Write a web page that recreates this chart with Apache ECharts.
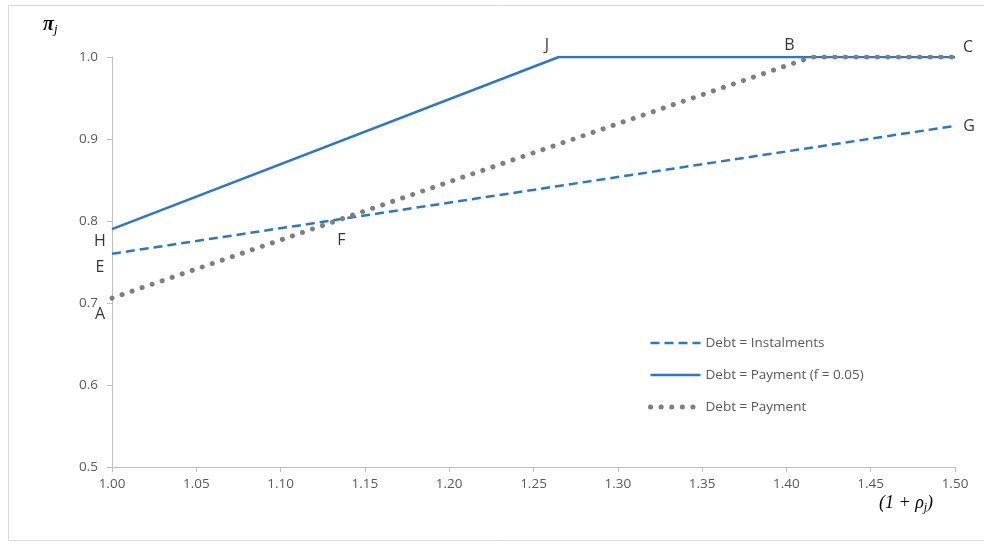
<!DOCTYPE html>
<html>
<head>
<meta charset="utf-8">
<script src="https://cdn.jsdelivr.net/npm/echarts@6/dist/echarts.min.js"></script>
<style>
  html, body { margin: 0; padding: 0; background: #fff; }
  #chart { width: 984px; height: 546px; }
</style>
</head>
<body>
<div id="chart"></div>
<script>
// Repayment rate (1 + rho_j) against probability pi_j for three debt schemes
var seriesNames = ['Debt = Instalments', 'Debt = Payment (f = 0.05)', 'Debt = Payment'];

var instalmentsX = [1.00, 1.50];
var instalmentsY = [0.760, 0.916];

var paymentFeeX = [1.00, 1.265, 1.50];
var paymentFeeY = [0.790, 1.000, 1.000];

var paymentX = [1.00, 1.415, 1.50];
var paymentY = [0.706, 1.000, 1.000];

// Named points on the curves
var pointNames = ['J', 'B', 'C', 'G', 'H', 'E', 'A', 'F'];
var pointX = [1.265, 1.40, 1.50, 1.50, 1.00, 1.00, 1.00, 1.136];
var pointY = [1.000, 1.000, 1.000, 0.916, 0.790, 0.760, 0.706, 0.802];
var pointOffsets = [[-12, -12], [3, -12], [13, -10], [14, 1], [-12, 12], [-12, 14], [-12, 16], [0, 21]];

function zip(xs, ys) { return xs.map(function (x, i) { return [x, ys[i]]; }); }

var blue = '#2e78c2';
var grey = '#7f7f7f';
var tickColor = '#595959';

var chart = echarts.init(document.getElementById('chart'));
chart.setOption({
  animation: false,
  backgroundColor: '#fff',
  grid: { left: 112, right: 29, top: 57, bottom: 79 },
  xAxis: {
    type: 'value', min: 1.0, max: 1.5, interval: 0.05,
    axisLine: { show: true, lineStyle: { color: '#bfbfbf', width: 1 } },
    axisTick: { show: true, length: 5, lineStyle: { color: '#bfbfbf' } },
    splitLine: { show: false },
    axisLabel: { color: tickColor, fontFamily: 'Open Sans', fontSize: 13.5, margin: 10,
      formatter: function (v) { return v.toFixed(2); } }
  },
  yAxis: {
    type: 'value', min: 0.5, max: 1.0, interval: 0.1,
    axisLine: { show: true, lineStyle: { color: '#bfbfbf', width: 1 } },
    axisTick: { show: true, length: 5, lineStyle: { color: '#bfbfbf' } },
    splitLine: { show: false },
    axisLabel: { color: tickColor, fontFamily: 'Open Sans', fontSize: 13.5, margin: 14,
      formatter: function (v) { return v.toFixed(1); } }
  },
  legend: {
    orient: 'vertical', left: 643, top: 331, itemGap: 18,
    itemWidth: 50, itemHeight: 14,
    itemStyle: { opacity: 0 },
    lineStyle: { width: 'inherit' },
    textStyle: { color: tickColor, fontFamily: 'Open Sans', fontSize: 13.5 },
    data: seriesNames
  },
  graphic: [
    { type: 'rect', shape: { x: 8.5, y: 5.5, width: 990, height: 535 }, silent: true,
      style: { fill: 'none', stroke: '#d9d9d9', lineWidth: 1 } },
    { type: 'text', left: 43, top: 15, silent: true,
      style: { text: '{a|π}{b|j}', rich: {
        a: { fontFamily: 'Liberation Serif', fontStyle: 'italic', fontWeight: 'bold', fontSize: 20, fill: '#000' },
        b: { fontFamily: 'Liberation Serif', fontStyle: 'italic', fontSize: 13, fill: '#000', padding: [10, 0, 0, 0] } } } },
    { type: 'text', left: 879, top: 494, silent: true,
      style: { text: '{a|(}{c|1}{a| + ρ}{b|j}{a|)}', rich: {
        a: { fontFamily: 'Liberation Serif', fontSize: 18, fill: '#000', fontStyle: 'italic' },
        c: { fontFamily: 'Liberation Serif', fontSize: 18, fill: '#000', fontStyle: 'italic' },
        b: { fontFamily: 'Liberation Serif', fontStyle: 'italic', fontSize: 12, fill: '#000', padding: [9, 0, 0, 0] } } } }
  ],
  series: [
    {
      name: seriesNames[0], type: 'line', data: zip(instalmentsX, instalmentsY),
      symbol: 'none', color: blue,
      lineStyle: { color: blue, width: 2.5, type: [9, 5] }
    },
    {
      name: seriesNames[1], type: 'line', data: zip(paymentFeeX, paymentFeeY),
      symbol: 'none', color: blue,
      lineStyle: { color: blue, width: 2.5, type: 'solid' }
    },
    {
      name: seriesNames[2], type: 'line', data: zip(paymentX, paymentY),
      symbol: 'none', color: grey,
      lineStyle: { color: grey, width: 5, type: [0.1, 10.5], cap: 'round' }
    },
    {
      name: 'points', type: 'scatter', symbolSize: 0, silent: true,
      data: pointNames.map(function (n, i) {
        return { value: [pointX[i], pointY[i]], name: n,
          label: { offset: pointOffsets[i] } };
      }),
      label: { show: true, position: 'inside', formatter: '{b}', color: '#000',
        fontFamily: 'Open Sans', fontSize: 16 }
    }
  ]
});
</script>
</body>
</html>
